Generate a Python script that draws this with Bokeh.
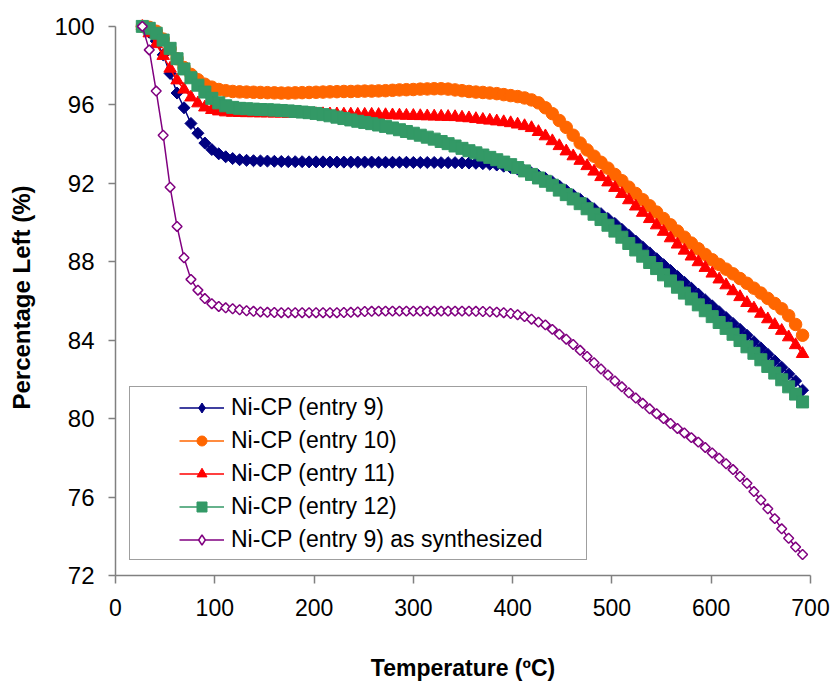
import math

from bokeh.embed import file_html
from bokeh.models import Legend, LegendItem, Range1d
from bokeh.plotting import figure
from bokeh.resources import INLINE

# Temperature grid (°C) shared by all TGA runs
temp_c = [
    27, 34, 41, 48, 55, 62, 69, 76, 83, 90, 97, 104,
    111, 118, 125, 132, 139, 146, 153, 160, 167, 174, 181, 188,
    195, 202, 209, 216, 223, 230, 237, 244, 251, 258, 265, 272,
    279, 286, 293, 300, 307, 314, 321, 328, 335, 342, 349, 356,
    363, 370, 377, 384, 391, 398, 405, 412, 419, 426, 433, 440,
    447, 454, 461, 468, 475, 482, 489, 496, 503, 510, 517, 524,
    531, 538, 545, 552, 559, 566, 573, 580, 587, 594, 601, 608,
    615, 622, 629, 636, 643, 650, 657, 664, 671, 678, 685, 692,
]

# Percentage of mass left
entry_9 = [
    100.0, 99.7, 99.25, 98.55, 97.6, 96.6, 95.85, 95.05, 94.55, 94.05, 93.72, 93.5,
    93.35, 93.26, 93.2, 93.17, 93.15, 93.14, 93.13, 93.12, 93.11, 93.1, 93.1, 93.1,
    93.09, 93.09, 93.09, 93.08, 93.08, 93.08, 93.08, 93.08, 93.08, 93.08, 93.07, 93.07,
    93.07, 93.07, 93.07, 93.06, 93.06, 93.06, 93.06, 93.05, 93.05, 93.05, 93.04, 93.03,
    93.02, 93.0, 92.97, 92.93, 92.87, 92.8, 92.72, 92.63, 92.52, 92.4, 92.25, 92.07,
    91.86, 91.63, 91.4, 91.18, 90.95, 90.7, 90.45, 90.2, 89.95, 89.65, 89.35, 89.05,
    88.75, 88.45, 88.15, 87.85, 87.55, 87.25, 86.95, 86.65, 86.35, 86.05, 85.75, 85.45,
    85.15, 84.85, 84.55, 84.25, 83.92, 83.6, 83.28, 82.95, 82.62, 82.28, 81.92, 81.45,
]

entry_10 = [
    100.0, 99.95, 99.75, 99.35, 98.85, 98.35, 97.9, 97.55, 97.28, 97.05, 96.9, 96.78,
    96.72, 96.68, 96.66, 96.65, 96.64, 96.63, 96.62, 96.61, 96.6, 96.6, 96.61, 96.62,
    96.63, 96.64, 96.65, 96.66, 96.67, 96.68, 96.68, 96.69, 96.7, 96.7, 96.71, 96.72,
    96.74, 96.76, 96.77, 96.78, 96.8, 96.81, 96.82, 96.82, 96.8, 96.76, 96.72, 96.68,
    96.65, 96.63, 96.6, 96.57, 96.52, 96.47, 96.42, 96.35, 96.25, 96.1, 95.85, 95.55,
    95.2, 94.85, 94.45, 94.05, 93.7, 93.38, 93.07, 92.77, 92.45, 92.13, 91.8, 91.48,
    91.16, 90.85, 90.53, 90.2, 89.88, 89.56, 89.25, 88.95, 88.66, 88.37, 88.1, 87.86,
    87.62, 87.38, 87.14, 86.9, 86.65, 86.4, 86.13, 85.87, 85.6, 85.25, 84.8, 84.25,
]

entry_11 = [
    100.0, 99.65, 99.1, 98.5, 97.85, 97.25, 96.78, 96.38, 96.08, 95.87, 95.74, 95.67,
    95.62, 95.6, 95.59, 95.58, 95.58, 95.57, 95.57, 95.56, 95.56, 95.55, 95.55, 95.54,
    95.54, 95.53, 95.53, 95.52, 95.52, 95.51, 95.51, 95.5, 95.5, 95.5, 95.49, 95.48,
    95.47, 95.46, 95.45, 95.44, 95.43, 95.42, 95.41, 95.4, 95.39, 95.38, 95.35, 95.32,
    95.28, 95.24, 95.2, 95.16, 95.12, 95.07, 95.0, 94.92, 94.82, 94.62, 94.4, 94.15,
    93.9, 93.63, 93.38, 93.15, 92.88, 92.6, 92.32, 92.05, 91.77, 91.46, 91.14, 90.82,
    90.5, 90.18, 89.86, 89.53, 89.2, 88.88, 88.57, 88.27, 87.98, 87.69, 87.4, 87.1,
    86.8, 86.5, 86.2, 85.9, 85.62, 85.35, 85.07, 84.78, 84.48, 84.15, 83.75, 83.3,
]

entry_12 = [
    100.0, 99.9, 99.65, 99.3, 98.88, 98.35, 97.83, 97.38, 97.0, 96.65, 96.33, 96.1,
    95.95, 95.87, 95.82, 95.8, 95.78, 95.76, 95.75, 95.73, 95.71, 95.69, 95.66, 95.63,
    95.6, 95.56, 95.5, 95.44, 95.37, 95.3, 95.23, 95.16, 95.1, 95.04, 94.97, 94.9,
    94.82, 94.73, 94.64, 94.55, 94.45, 94.35, 94.25, 94.13, 94.02, 93.9, 93.78, 93.66,
    93.55, 93.44, 93.32, 93.2, 93.08, 92.95, 92.8, 92.63, 92.45, 92.27, 92.1, 91.9,
    91.65, 91.42, 91.2, 90.96, 90.7, 90.42, 90.15, 89.86, 89.56, 89.25, 88.93, 88.6,
    88.28, 87.96, 87.65, 87.33, 87.02, 86.7, 86.4, 86.1, 85.8, 85.5, 85.2, 84.9,
    84.6, 84.3, 83.98, 83.66, 83.33, 83.0, 82.66, 82.32, 81.98, 81.62, 81.25, 80.85,
]

entry_9_as_synthesized = [
    100.0, 98.8, 96.7, 94.45, 91.8, 89.8, 88.2, 87.1, 86.55, 86.12, 85.86, 85.72,
    85.65, 85.6, 85.55, 85.5, 85.47, 85.44, 85.42, 85.41, 85.4, 85.4, 85.4, 85.4,
    85.4, 85.4, 85.4, 85.4, 85.4, 85.41, 85.42, 85.44, 85.46, 85.47, 85.48, 85.48,
    85.48, 85.48, 85.48, 85.48, 85.48, 85.48, 85.48, 85.48, 85.48, 85.48, 85.48, 85.48,
    85.47, 85.46, 85.45, 85.43, 85.4, 85.36, 85.3, 85.2, 85.07, 84.92, 84.78, 84.55,
    84.3, 84.05, 83.78, 83.48, 83.17, 82.85, 82.53, 82.22, 81.92, 81.62, 81.32, 81.05,
    80.78, 80.5, 80.25, 80.0, 79.75, 79.5, 79.27, 79.03, 78.8, 78.53, 78.25, 77.98,
    77.7, 77.4, 77.05, 76.7, 76.28, 75.85, 75.4, 74.9, 74.38, 73.9, 73.45, 73.07,
]

x_ticks = [0, 100, 200, 300, 400, 500, 600, 700]
y_ticks = [72, 76, 80, 84, 88, 92, 96, 100]

FONT = "Liberation Sans"
AXIS_GREY = "#808080"

p = figure(
    width=836, height=689,
    output_backend="svg", toolbar_location=None, title=None,
    x_range=Range1d(0, 700), y_range=Range1d(72, 100.35),
    min_border_left=115, min_border_right=26,
    min_border_top=19, min_border_bottom=114,
)
p.outline_line_color = None
p.grid.visible = False
p.background_fill_color = "white"
p.border_fill_color = "white"

# (label, values, colour, marker, angle, size, fill, legend marker)
series = [
    ("Ni-CP (entry 9)", entry_9, "#000080", "square", math.pi / 4, 8.5, "#000080", "diamond"),
    ("Ni-CP (entry 10)", entry_10, "#FF6600", "circle", 0.0, 12.5, "#FF6600", "circle"),
    ("Ni-CP (entry 11)", entry_11, "#FF0000", "triangle", 0.0, 12.5, "#FF0000", "triangle"),
    ("Ni-CP (entry 12)", entry_12, "#339966", "square", 0.0, 12, "#339966", "square"),
    ("Ni-CP (entry 9) as synthesized", entry_9_as_synthesized, "#800080", "square",
     math.pi / 4, 7, "white", "diamond"),
]

items = []
for label, values, color, marker, angle, size, fill, key_marker in series:
    hollow = fill == "white"
    lw = 1.5 if hollow else 1
    # legend key marker (upright shape); drawn first and tiny so the series covers it
    key_r = p.scatter(temp_c[:1], values[:1], marker=key_marker, size=0.5,
                      fill_color=fill, line_color=color, line_width=lw)
    line_r = p.line(temp_c, values, line_color=color, line_width=1.5)
    p.scatter(temp_c, values, marker=marker, angle=angle, size=size,
              fill_color=fill, line_color=color, line_width=lw)
    items.append(LegendItem(label=label, renderers=[line_r, key_r]))

legend = Legend(
    items=items, location=(14, 15), margin=0,
    glyph_width=45, glyph_height=25, label_height=30, label_standoff=7, spacing=3,
    label_width=345,
    label_text_font=FONT, label_text_font_size="23px", label_text_color="black",
    border_line_color="#404040", border_line_width=1,
    background_fill_color="white", background_fill_alpha=1.0,
)
try:
    legend.padding = dict(left=49, right=10, top=5, bottom=5)
except Exception:
    legend.padding = 5
    legend.location = (58, 15)
    legend.label_width = 350
p.add_layout(legend, "center")

for axis in (p.xaxis[0], p.yaxis[0]):
    axis.axis_line_color = AXIS_GREY
    axis.axis_line_width = 1.5
    axis.major_tick_line_color = AXIS_GREY
    axis.major_tick_line_width = 1.5
    axis.major_tick_in = 0
    axis.minor_tick_line_color = None
    axis.major_label_text_font = FONT
    axis.major_label_text_color = "black"
    axis.axis_label_text_font = FONT
    axis.axis_label_text_font_style = "bold"
    axis.axis_label_text_color = "black"

xaxis = p.xaxis[0]
xaxis.ticker = x_ticks
xaxis.major_tick_out = 8
xaxis.major_label_text_font_size = "23px"
xaxis.major_label_standoff = 15
xaxis.axis_label = "Temperature (ºC)"
xaxis.axis_label_text_font_size = "23px"
xaxis.axis_label_standoff = 36

yaxis = p.yaxis[0]
yaxis.ticker = y_ticks
yaxis.bounds = (72, 100)
yaxis.major_tick_out = 7
yaxis.major_label_text_font_size = "24px"
yaxis.major_label_standoff = 14
yaxis.axis_label = "Percentage Left (%)"
yaxis.axis_label_text_font_size = "24px"
yaxis.axis_label_standoff = 16

open("out.html", "w").write(file_html(p, INLINE))
